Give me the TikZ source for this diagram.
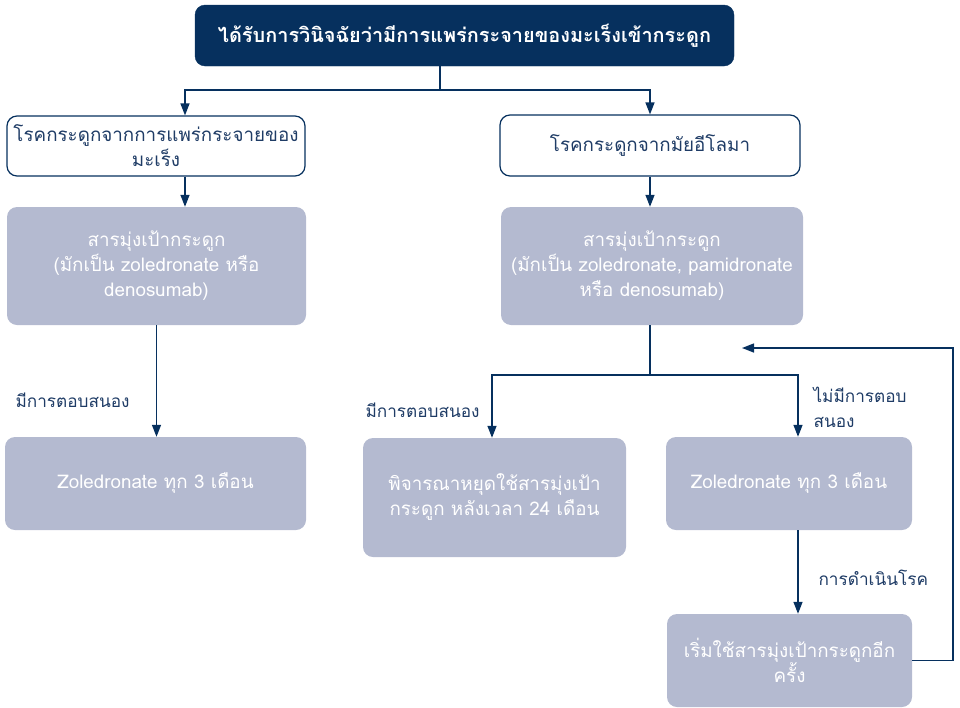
\documentclass[tikz,border=0pt]{standalone}
\usepackage{fontspec}
\newfontfamily\thaifont[Script=Thai]{Loma}
\usetikzlibrary{arrows.meta,positioning}

\definecolor{navy}{HTML}{06305E}
\definecolor{boxgrey}{HTML}{B4BAD0}
\definecolor{labelblue}{HTML}{1F3C66}

\begin{document}
\begin{tikzpicture}[x=1pt,y=-1pt]
    % Box and connector styles
    \tikzset{
        basebox/.style={rounded corners=10pt, align=center, inner sep=2pt,
            font=\thaifont\fontsize{18.8}{25}\selectfont},
        headbox/.style={basebox, draw=navy, fill=navy, text=white,
            font=\thaifont\bfseries\fontsize{19.9}{24}\selectfont},
        outlinebox/.style={basebox, draw=navy, line width=1.2pt, fill=white, text=labelblue},
        greybox/.style={basebox, fill=boxgrey, text=white},
        tag/.style={anchor=west, align=left, text=labelblue,
            font=\thaifont\fontsize{17.2}{25}\selectfont},
        link/.style={draw=navy, line width=1.4pt},
        arr/.style={link, -{Triangle[width=9pt,length=12pt]}}
    }
    \useasboundingbox (0,0) rectangle (960,707);

    % Boxes
    \node[headbox, minimum width=539pt, minimum height=61pt] (top) at (464.5,35.5)
        {ได้รับการวินิจฉัยว่ามีการแพร่กระจายของมะเร็งเข้ากระดูก};
    \node[outlinebox, minimum width=298pt, minimum height=60pt] (lw) at (156,146)
        {โรคกระดูกจากการแพร่กระจายของ\\มะเร็ง};
    \node[outlinebox, minimum width=300pt, minimum height=61pt] (rw) at (650,145.5)
        {โรคกระดูกจากมัยอีโลมา};
    \node[greybox, minimum width=299pt, minimum height=118pt] (lg) at (156.5,266)
        {สารมุ่งเป้ากระดูก\\(มักเป็น zoledronate หรือ\\denosumab)};
    \node[greybox, minimum width=302pt, minimum height=118pt] (rg) at (652,266)
        {สารมุ่งเป้ากระดูก\\(มักเป็น zoledronate, pamidronate\\หรือ denosumab)};
    \node[greybox, minimum width=301pt, minimum height=93pt] (lz) at (155.5,483.5)
        {Zoledronate ทุก 3 เดือน};
    \node[greybox, minimum width=263pt, minimum height=119pt] (mid) at (494.5,497.5)
        {พิจารณาหยุดใช้สารมุ่งเป้า\\กระดูก หลังเวลา 24 เดือน};
    \node[greybox, minimum width=246pt, minimum height=93pt] (rz) at (789,483.5)
        {Zoledronate ทุก 3 เดือน};
    \node[greybox, minimum width=245pt, minimum height=93pt] (rs) at (789.5,660.5)
        {เริ่มใช้สารมุ่งเป้ากระดูกอีก\\ครั้ง};

    % Branch labels
    \node[tag] (yes1) at (12,400) {มีการตอบสนอง};
    \node[tag] (yes2) at (362,410) {มีการตอบสนอง};
    \node[tag] (no2) at (810,407) {ไม่มีการตอบ\\สนอง};
    \node[tag] (prog) at (815,578) {การดำเนินโรค};

    % Connectors
    \coordinate (split1) at (440,90);
    \coordinate (split2) at (650,375);
    \coordinate (back) at (953,348);
    \coordinate (loop) at (742,348);

    \draw[link] (top.south -| split1) -- (split1);
    \draw[arr] (split1) -| ([xshift=29pt]lw.north);
    \draw[arr] (split1) -| (rw.north);
    \draw[arr] ([xshift=29pt]lw.south) -- ([xshift=29pt]lw.south |- lg.north);
    \draw[arr] (lg.south) -- (lg.south |- lz.north);
    \draw[arr] (rw.south) -- (rw.south |- rg.north);
    \draw[link] (rg.south -| split2) -- (split2);
    \draw[arr] (split2) -| ([xshift=-2.5pt]mid.north);
    \draw[arr] (split2) -| ([xshift=9pt]rz.north);
    \draw[arr] ([xshift=9pt]rz.south) -- ([xshift=9pt]rz.south |- rs.north);
    \draw[arr] (rs.east) -| (back) -- (loop);
\end{tikzpicture}
\end{document}
